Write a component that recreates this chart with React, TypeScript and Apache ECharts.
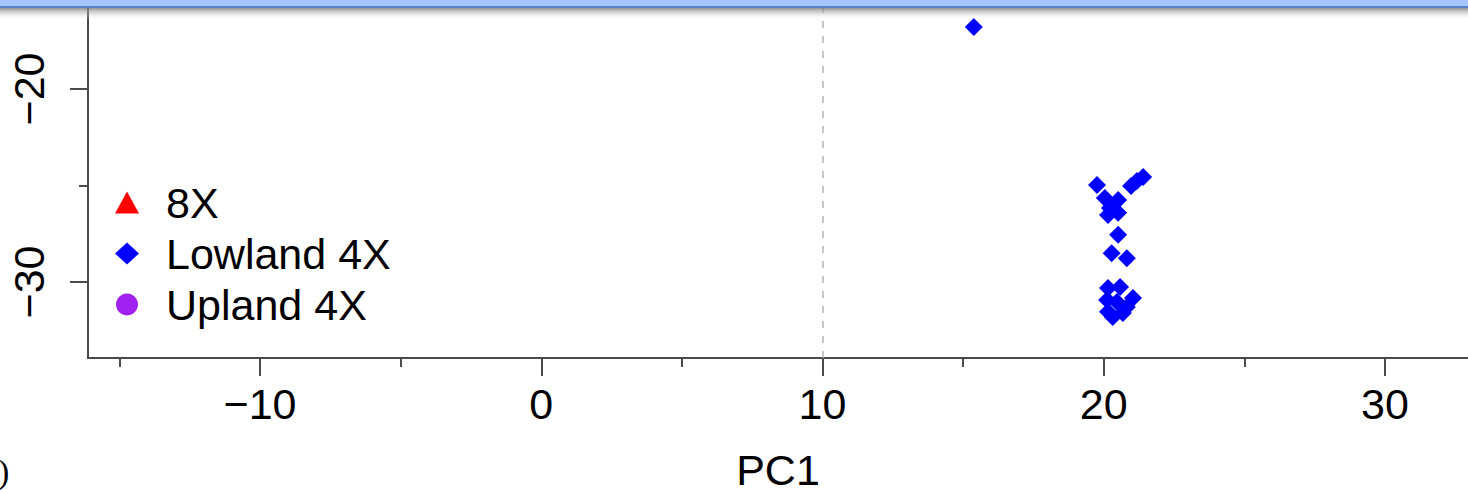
import React, { useEffect, useRef } from "react";
import * as echarts from "echarts";

// PC1 / PC2 scores of the Lowland 4X samples
const lowlandPC1 = [15.38, 19.76, 20.97, 21.18, 21.4, 20.04, 20.51, 20.22, 20.51, 20.15, 20.51, 20.28, 20.82, 20.15, 20.58, 21.04, 20.12, 20.47, 20.15, 20.68, 20.32, 20.82];
const lowlandPC2 = [-16.79, -24.97, -25.03, -24.77, -24.56, -25.65, -25.75, -26.17, -26.42, -26.53, -27.56, -28.51, -28.77, -30.31, -30.26, -30.83, -30.93, -31.04, -31.55, -31.61, -31.81, -31.3];
const octoPC1: number[] = [];
const octoPC2: number[] = [];
const uplandPC1: number[] = [];
const uplandPC2: number[] = [];

const seriesNames = ["8X", "Lowland 4X", "Upland 4X"];
const xMajorTicks = [-10, 0, 10, 20, 30];
const xMinorTicks = [-15, -5, 5, 15, 25];
const yMajorTicks = [-30, -20];
const yMinorTicks = [-25];
const xRange = [-16.116, 32.95];
const yRange = [-33.94, -15.39];
const xName = "PC1";

const pairs = (a: number[], b: number[]) => a.map((v, i) => [v, b[i]]);
const fmt = (v: number) => String(v).replace("-", "\u2212");

const FONT = "Liberation Sans";
const FS = 43;
const AXIS_COLOR = "#4a4a4a";

export default function App() {
  const ref = useRef<HTMLDivElement>(null);
  useEffect(() => {
    if (!ref.current) return;
    const chart = echarts.init(ref.current, null, { renderer: "svg" });
    const common = {
      type: "value" as const,
      splitLine: { show: false },
    };
    chart.setOption({
      animation: false,
      backgroundColor: "#ffffff",
      grid: { left: 88, right: 0, top: 0, bottom: 132, containLabel: false, outerBoundsMode: "none" },
      xAxis: [
        {
          ...common,
          position: "bottom",
          min: xRange[0],
          max: xRange[1],
          name: xName,
          nameLocation: "middle",
          nameGap: 90,
          nameTextStyle: { fontSize: FS, fontFamily: FONT, color: "#000" },
          axisLine: { show: true, onZero: false, lineStyle: { color: AXIS_COLOR, width: 2 } },
          axisTick: { show: true, customValues: xMajorTicks, length: 18, lineStyle: { color: AXIS_COLOR, width: 2 } },
          axisLabel: { customValues: xMajorTicks, formatter: fmt, fontSize: FS, fontFamily: FONT, color: "#000", margin: 24 },
        },
        {
          ...common,
          position: "bottom",
          min: xRange[0],
          max: xRange[1],
          axisLine: { show: false, onZero: false },
          axisTick: { show: true, customValues: xMinorTicks, length: 9, lineStyle: { color: AXIS_COLOR, width: 2 } },
          axisLabel: { show: false },
        },
      ],
      yAxis: [
        {
          ...common,
          position: "left",
          min: yRange[0],
          max: yRange[1],
          axisLine: { show: true, onZero: false, lineStyle: { color: AXIS_COLOR, width: 2 } },
          axisTick: { show: true, customValues: yMajorTicks, length: 18, lineStyle: { color: AXIS_COLOR, width: 2 } },
          axisLabel: { customValues: yMajorTicks, formatter: fmt, rotate: 90, fontSize: FS, fontFamily: FONT, color: "#000", margin: 38 },
        },
        {
          ...common,
          position: "left",
          min: yRange[0],
          max: yRange[1],
          axisLine: { show: false, onZero: false },
          axisTick: { show: true, customValues: yMinorTicks, length: 9, lineStyle: { color: AXIS_COLOR, width: 2 } },
          axisLabel: { show: false },
        },
      ],
      legend: {
        orient: "vertical",
        left: 110,
        top: 176,
        itemWidth: 24,
        itemHeight: 22,
        itemGap: 8,
        data: [
          { name: seriesNames[0], icon: "triangle" },
          { name: seriesNames[1], icon: "diamond" },
          { name: seriesNames[2], icon: "circle" },
        ],
        textStyle: { fontSize: FS, fontFamily: FONT, color: "#000", padding: [0, 0, 0, 22] },
      },
      series: [
        {
          name: seriesNames[0],
          type: "scatter",
          symbol: "triangle",
          symbolSize: 22,
          itemStyle: { color: "#ff0000", opacity: 1 },
          data: pairs(octoPC1, octoPC2),
        },
        {
          name: seriesNames[1],
          type: "scatter",
          symbol: "diamond",
          symbolSize: 18,
          itemStyle: { color: "#0000ff", opacity: 1 },
          data: pairs(lowlandPC1, lowlandPC2),
          markLine: {
            silent: true,
            symbol: "none",
            label: { show: false },
            lineStyle: { color: "#b4b4b4", type: [7, 8], width: 1.5 },
            data: [{ xAxis: 10 }],
          },
        },
        {
          name: seriesNames[2],
          type: "scatter",
          symbol: "circle",
          symbolSize: 22,
          itemStyle: { color: "#a020f0", opacity: 1 },
          data: pairs(uplandPC1, uplandPC2),
        },
      ],
      graphic: [
        {
          type: "rect",
          z: 100,
          shape: { x: 0, y: 0, width: 1468, height: 6 },
          style: { fill: "#a4c5fb" },
        },
        {
          type: "rect",
          z: 100,
          shape: { x: 0, y: 6, width: 1468, height: 2 },
          style: { fill: "#5a82c4" },
        },
        {
          type: "rect",
          z: 100,
          shape: { x: 0, y: 8, width: 1468, height: 12 },
          style: {
            fill: new echarts.graphic.LinearGradient(0, 0, 0, 1, [
              { offset: 0, color: "rgba(120,120,120,0.8)" },
              { offset: 1, color: "rgba(255,255,255,0)" },
            ]),
          },
        },
        {
          type: "text",
          left: -2,
          top: 454,
          style: { text: ")", font: "normal 34px 'Liberation Serif'", fill: "#000" },
        },
      ],
    });
    return () => chart.dispose();
  }, []);
  return (
    <div
      ref={ref}
      style={{ position: "fixed", left: 0, top: 0, width: 1468, height: 490 }}
    />
  );
}
